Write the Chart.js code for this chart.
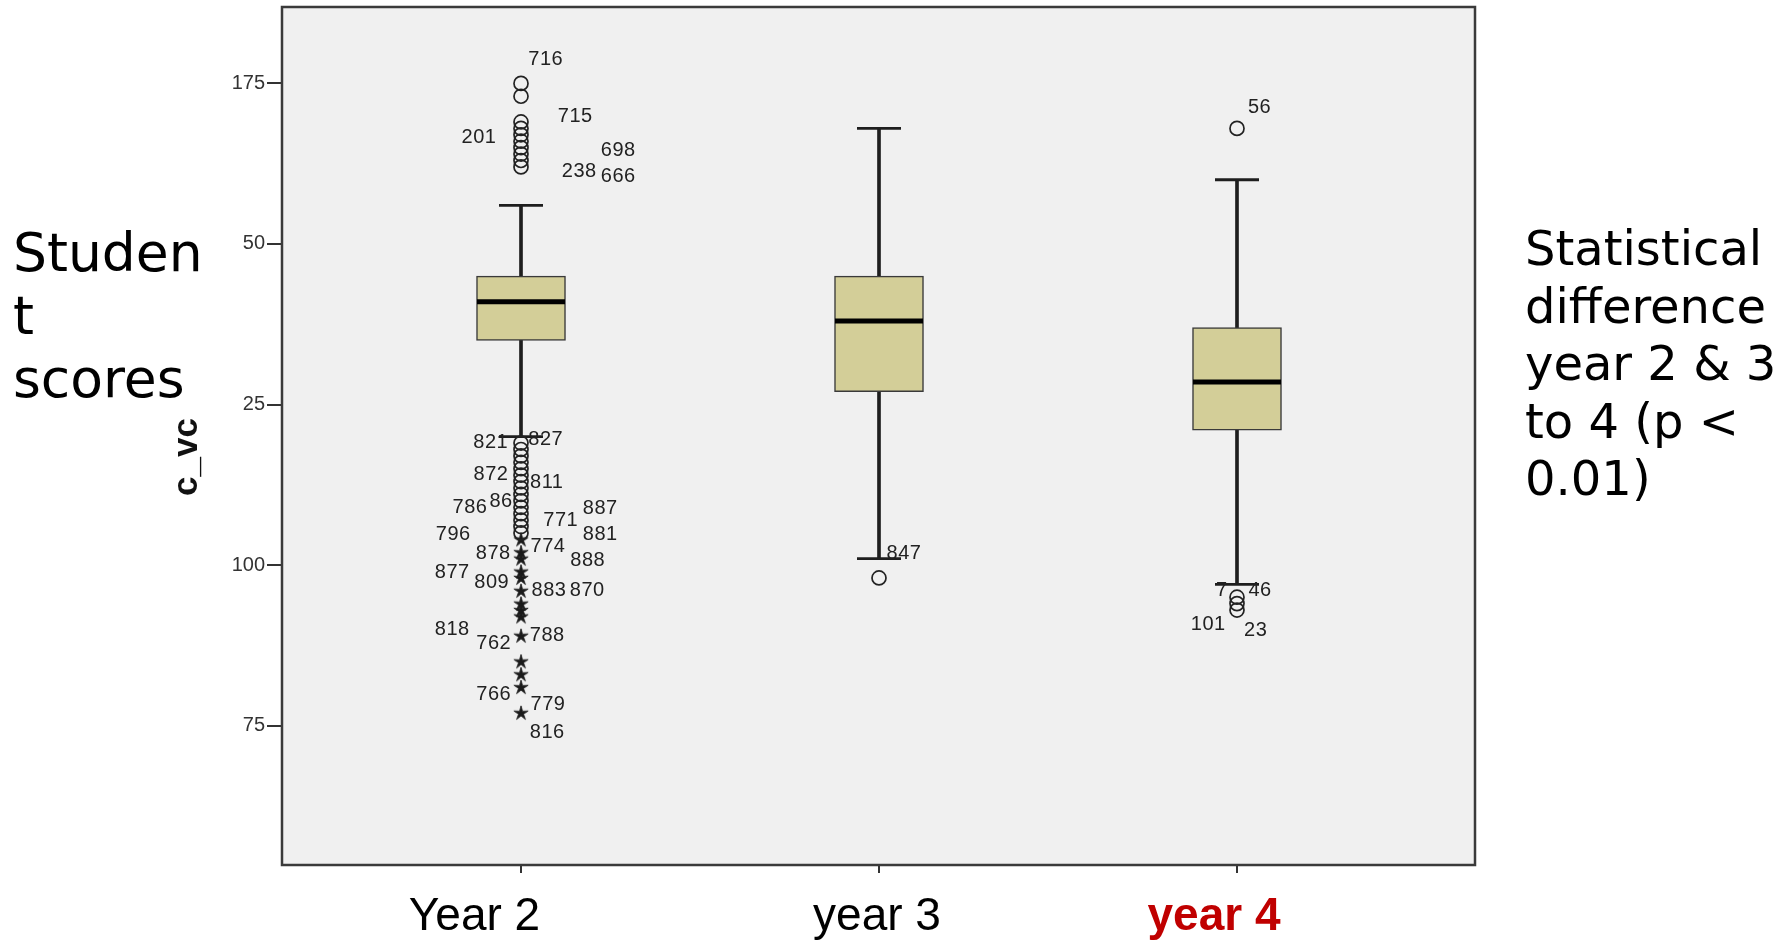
<!DOCTYPE html>
<html>
<head>
<meta charset="utf-8">
<script src="https://cdn.jsdelivr.net/npm/chart.js@4.4.1/dist/chart.umd.min.js"></script>
<style>
html, body { margin: 0; padding: 0; background: #fff; }
#wrap { position: relative; width: 1792px; height: 947px; overflow: hidden; }
#c { position: absolute; left: 0; top: 0; }
.note { position: absolute; font-family: "DejaVu Sans", sans-serif; color: #000; white-space: nowrap; }
#left { left: 13px; top: 221px; font-size: 53.5px; line-height: 63px; }
#right { left: 1525px; top: 220px; font-size: 48px; line-height: 57.5px; }
</style>
</head>
<body>
<div id="wrap">
  <canvas id="c" width="1792" height="947"></canvas>
  <div class="note" id="left">Studen<br>t<br>scores</div>
  <div class="note" id="right">Statistical<br>difference<br>year 2 &amp; 3<br>to 4 (p &lt;<br>0.01)</div>
</div>
<script>
// Groups on the horizontal axis
const categories = ['Year 2', 'year 3', 'year 4'];

// Five-number summaries per group
const whiskerLow  = [70, 51, 47];
const q1          = [85, 77, 71];
const median      = [91, 88, 78.5];
const q3          = [95, 95, 87];
const whiskerHigh = [106, 118, 110];

// Outliers (circles) and extreme values (stars)
const outliersYear2 = [125, 123, 119, 118, 117, 116, 115, 114, 113, 112,
                       69, 68, 67, 66, 65, 64, 63, 62, 61, 60, 59, 58, 57, 56, 55];
const extremesYear2 = [54, 52, 51, 49, 48, 46, 44, 43, 42, 39, 35, 33, 31, 27];
const outliersYear3 = [48];
const outliersYear4 = [118, 45, 44, 43];

// Vertical axis ticks and the labels printed next to them
const yTickValues = [125, 100, 75, 50, 25];
const yTickLabels = ['175', '50', '25', '100', '75'];

// Case numbers printed beside outliers: group, outlier value, text
const caseIds = [
  { cat: 0, value: 125, text: '716' },
  { cat: 0, value: 119, text: '715' },
  { cat: 0, value: 117, text: '201' },
  { cat: 0, value: 114, text: '698' },
  { cat: 0, value: 112, text: '238' },
  { cat: 0, value: 112, text: '666' },
  { cat: 0, value: 69, text: '821' },
  { cat: 0, value: 69, text: '827' },
  { cat: 0, value: 64, text: '872' },
  { cat: 0, value: 63, text: '811' },
  { cat: 0, value: 59, text: '786' },
  { cat: 0, value: 60, text: '86' },
  { cat: 0, value: 59, text: '887' },
  { cat: 0, value: 57, text: '771' },
  { cat: 0, value: 55, text: '796' },
  { cat: 0, value: 55, text: '881' },
  { cat: 0, value: 52, text: '878' },
  { cat: 0, value: 52, text: '774' },
  { cat: 0, value: 51, text: '888' },
  { cat: 0, value: 49, text: '877' },
  { cat: 0, value: 48, text: '809' },
  { cat: 0, value: 46, text: '883' },
  { cat: 0, value: 46, text: '870' },
  { cat: 0, value: 39, text: '818' },
  { cat: 0, value: 39, text: '762' },
  { cat: 0, value: 39, text: '788' },
  { cat: 0, value: 31, text: '766' },
  { cat: 0, value: 27, text: '779' },
  { cat: 0, value: 27, text: '816' },
  { cat: 1, value: 48, text: '847' },
  { cat: 2, value: 118, text: '56' },
  { cat: 2, value: 45, text: '46' },
  { cat: 2, value: 45, text: '7' },
  { cat: 2, value: 43, text: '101' },
  { cat: 2, value: 43, text: '23' }
];

// Pixel nudges for the case numbers, same order as caseIds
const caseIdOffsets = [
  [24.7, -23.7], [54.3, -5], [-42, 2.6], [97.3, -4], [58.3, 4.5], [97.3, 9.8],
  [-30.3, -0.5], [24.7, -3.9], [-30, -1], [25.7, 1], [-51, 0.3], [-20, 1],
  [79.3, 0.9], [39.7, 0.7], [-67.7, 1.9], [79.3, 1.2], [-27.7, 0.9], [27, -5.4],
  [66.7, 1.5], [-68.7, 1.1], [-29.3, 4.5], [28, -0.6], [66.3, -0.6], [-68.7, -5.8],
  [-27.3, 7.5], [26.3, -0.5], [-27.3, 7.1], [27, -8.3], [26.3, 19.4],
  [25, -24.5],
  [22.5, -21], [23, -6.3], [-15.3, -6.3], [-28.7, 14.2], [18.7, 20.9]
];

// Group label placement and style
const categoryLabelShift = [-46.5, -2, -23];
const categoryLabelColor = ['#000', '#000', '#c00000'];
const categoryLabelWeight = ['normal', 'normal', 'bold'];

// Star marker used for extreme values
function makeStar() {
  const c = document.createElement('canvas');
  c.width = 18; c.height = 18;
  const g = c.getContext('2d');
  g.fillStyle = '#1a1a1a';
  g.strokeStyle = '#1a1a1a';
  g.lineWidth = 0.8;
  g.beginPath();
  for (let k = 0; k < 10; k++) {
    const r = k % 2 ? 2.6 : 7.5;
    const a = -Math.PI / 2 + k * Math.PI / 5;
    const px = 9 + r * Math.cos(a), py = 9.5 + r * Math.sin(a);
    if (k === 0) g.moveTo(px, py); else g.lineTo(px, py);
  }
  g.closePath();
  g.fill();
  g.stroke();
  return c;
}
const starMarker = makeStar();

const pts = (cat, values) => values.map(v => ({ x: cat, y: v }));

// Scales keep fixed sizes and add no extra layout padding
const fixScale = size => s => {
  if (s.isHorizontal()) s.height = size; else s.width = size;
  s.paddingTop = 0; s.paddingBottom = 0; s.paddingLeft = 0; s.paddingRight = 0;
};

const plotBackground = {
  id: 'plotBackground',
  beforeDraw(chart) {
    const { ctx, chartArea: a } = chart;
    ctx.save();
    ctx.fillStyle = '#f0f0f0';
    ctx.fillRect(a.left, a.top, a.right - a.left, a.bottom - a.top);
    ctx.restore();
  },
  afterDraw(chart) {
    const { ctx, chartArea: a } = chart;
    ctx.save();
    ctx.strokeStyle = '#3a3a3a';
    ctx.lineWidth = 2.5;
    ctx.strokeRect(a.left, a.top, a.right - a.left, a.bottom - a.top);
    ctx.restore();
  }
};

const caseIdLabels = {
  id: 'caseIdLabels',
  afterDatasetsDraw(chart) {
    const { ctx, scales: { x, y } } = chart;
    ctx.save();
    ctx.fillStyle = '#222';
    ctx.font = '20px "Liberation Sans", Arial, sans-serif';
    ctx.letterSpacing = '0.5px';
    ctx.textAlign = 'center';
    ctx.textBaseline = 'middle';
    caseIds.forEach((d, i) => {
      const [dx, dy] = caseIdOffsets[i];
      ctx.fillText(d.text, x.getPixelForValue(d.cat) + dx, y.getPixelForValue(d.value) + dy);
    });
    ctx.restore();
  }
};

const axisText = {
  id: 'axisText',
  afterDraw(chart) {
    const { ctx, scales: { x } } = chart;
    ctx.save();
    ctx.textAlign = 'center';
    ctx.textBaseline = 'alphabetic';
    categories.forEach((name, i) => {
      ctx.fillStyle = categoryLabelColor[i];
      ctx.font = categoryLabelWeight[i] + ' 46px "Liberation Sans", Arial, sans-serif';
      ctx.fillText(name, x.getPixelForValue(i) + categoryLabelShift[i], 930);
    });
    ctx.translate(197, 457);
    ctx.rotate(-Math.PI / 2);
    ctx.fillStyle = '#111';
    ctx.font = 'bold 35px "Liberation Sans", Arial, sans-serif';
    ctx.fillText('c_vc', 0, 0);
    ctx.restore();
  }
};

new Chart(document.getElementById('c'), {
  type: 'bar',
  data: {
    datasets: [
      {
        type: 'scatter', order: 0,
        data: [...pts(0, outliersYear2), ...pts(1, outliersYear3), ...pts(2, outliersYear4)],
        pointStyle: 'circle', pointRadius: 7, borderWidth: 1.7,
        borderColor: '#222', backgroundColor: 'rgba(0,0,0,0)'
      },
      {
        type: 'scatter', order: 0,
        data: pts(0, extremesYear2),
        pointStyle: starMarker, pointRadius: 8
      },
      {
        type: 'scatter', order: 1,
        data: categories.map((_, i) => ({ x: i, y: median[i] })),
        pointStyle: 'line', pointRadius: 44, borderWidth: 5, borderColor: '#000'
      },
      {
        type: 'scatter', order: 1,
        data: [...categories.map((_, i) => ({ x: i, y: whiskerLow[i] })),
               ...categories.map((_, i) => ({ x: i, y: whiskerHigh[i] }))],
        pointStyle: 'line', pointRadius: 22, borderWidth: 2.8, borderColor: '#1e1e1e'
      },
      {
        type: 'bar', order: 2, grouped: false,
        data: categories.map((_, i) => ({ x: i, y: [q1[i], q3[i]] })),
        barThickness: 89, backgroundColor: '#d3ce98',
        borderColor: '#3a3a3a', borderWidth: 1.5, borderSkipped: false
      },
      {
        type: 'bar', order: 3, grouped: false,
        data: categories.map((_, i) => ({ x: i, y: [whiskerLow[i], whiskerHigh[i]] })),
        barThickness: 3, backgroundColor: '#1e1e1e', borderWidth: 0
      }
    ]
  },
  options: {
    responsive: false,
    devicePixelRatio: 1,
    animation: false,
    events: [],
    layout: { autoPadding: false, padding: { left: 0, top: 7, right: 317, bottom: 0 } },
    plugins: { legend: { display: false }, tooltip: { enabled: false }, title: { display: false } },
    scales: {
      x: {
        type: 'linear', min: -0.6676, max: 2.6648, offset: false,
        afterBuildTicks: s => { s.ticks = categories.map((_, i) => ({ value: i })); },
        afterFit: fixScale(82),
        grid: { offset: false, drawOnChartArea: false, drawTicks: true, tickLength: 8, color: '#333', lineWidth: 2 },
        border: { display: false },
        ticks: { display: false }
      },
      y: {
        type: 'linear', min: 3.3, max: 136.9,
        afterBuildTicks: s => { s.ticks = yTickValues.map(v => ({ value: v })); },
        afterFit: fixScale(282),
        grid: { offset: false, drawOnChartArea: false, drawTicks: true, tickLength: 15, color: '#333', lineWidth: 2 },
        border: { display: false },
        ticks: {
          padding: 2, color: '#333',
          font: { family: '"Liberation Sans", Arial, sans-serif', size: 20 },
          callback: (v, i) => yTickLabels[i]
        }
      }
    }
  },
  plugins: [plotBackground, caseIdLabels, axisText]
});
</script>
</body>
</html>
